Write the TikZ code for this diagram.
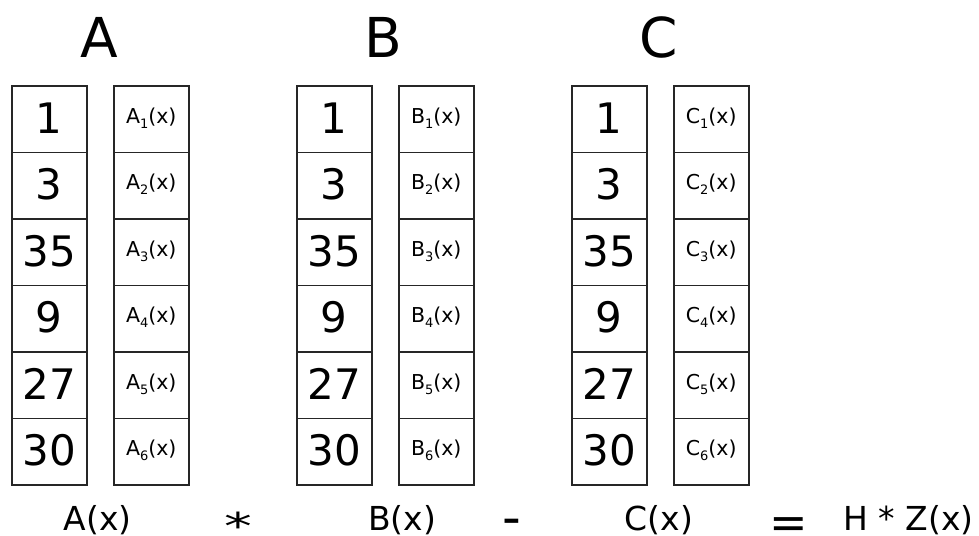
\documentclass[tikz,border=0pt]{standalone}
\usepackage{fontspec}
\setmainfont{DejaVu Sans}
\newcommand{\subf}[2]{#1\raisebox{-5pt}{\fontsize{13}{13}\selectfont #2}(x)}
\begin{document}
\begin{tikzpicture}[x=1pt,y=-1pt,
  cellbox/.style={draw=black!85, line width=1.5pt, minimum width=75pt, minimum height=66.5pt, inner sep=0pt, anchor=north west},
  numtxt/.style={font=\fontsize{42}{42}\selectfont, inner sep=0pt, anchor=base},
  subtxt/.style={font=\fontsize{20.5}{20.5}\selectfont, inner sep=0pt, anchor=base},
  ttl/.style={font=\fontsize{55}{55}\selectfont, inner sep=0pt, anchor=base},
  btm/.style={font=\fontsize{33}{33}\selectfont, inner sep=0pt, anchor=base},
  opr/.style={inner sep=0pt, anchor=north}]
\useasboundingbox (0,0) rectangle (979,535);
\fill[white] (0,0) rectangle (979,535);
\foreach \L/\nx/\fx in {A/11/113, B/296/398, C/571/673} {
  \foreach \v [count=\i] in {1,3,35,9,27,30} {
    \pgfmathsetmacro\ty{85+66.5*(\i-1)}
    \node[cellbox] (n\L\i) at (\nx,\ty) {};
    \node[cellbox] (f\L\i) at (\fx,\ty) {};
    \node[numtxt] (tn\L\i) at ([yshift=-14pt]n\L\i.center) {\v};
    \node[subtxt] (tf\L\i) at ([yshift=-4pt]f\L\i.center) {\subf{\L}{\i}};
  }
}
\node[ttl] (tA) at (99,57) {A};
\node[ttl] (tB) at (383,57) {B};
\node[ttl] (tC) at (659,57) {C};
\node[btm] (bA) at (97.5,530) {A(x)};
\node[opr, font=\fontsize{37}{37}\selectfont] (star) at (238,512) {\scalebox{1.5}[1]{*}};
\node[btm] (bB) at (402,530) {B(x)};
\node[opr, font=\fontsize{52}{52}\selectfont] (minus) at (512,519) {-};
\node[btm] (bC) at (659,530) {C(x)};
\node[opr, font=\fontsize{46}{46}\selectfont] (eq) at (789,517) {=};
\node[btm] (bH) at (908.5,530) {H * Z(x)};
\end{tikzpicture}
\end{document}
